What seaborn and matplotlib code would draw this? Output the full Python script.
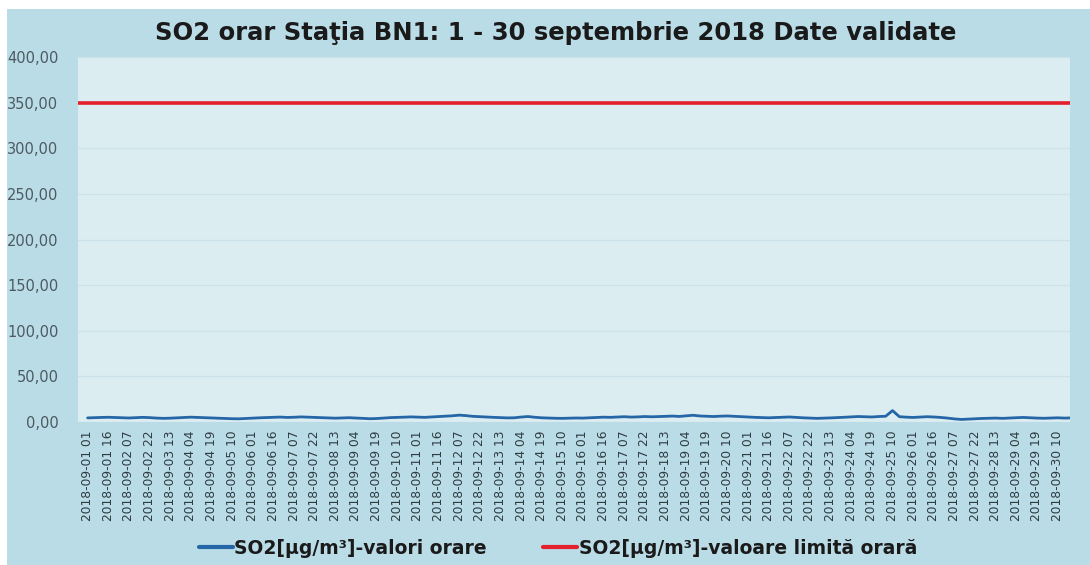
import matplotlib
matplotlib.use("Agg")
import matplotlib.pyplot as plt
import numpy as np
import pandas as pd
import seaborn as sns
from matplotlib.patches import Rectangle
from matplotlib.lines import Line2D

# hourly SO2, one value every 5 hours starting 2018-09-01 01
so2_values = [
    4.5, 4.8, 5.0, 5.2, 4.9, 4.6, 4.4, 4.7, 5.1, 4.8, 4.3, 4.0,
    4.2, 4.6, 4.9, 5.3, 5.0, 4.6, 4.3, 4.0, 3.8, 3.6, 3.5, 3.9,
    4.2, 4.6, 4.9, 5.1, 5.4, 5.0, 5.2, 5.6, 5.3, 4.9, 4.6, 4.4,
    4.2, 4.5, 4.7, 4.4, 4.0, 3.6, 3.8, 4.3, 4.8, 5.0, 5.3, 5.6,
    5.4, 5.1, 5.5, 5.9, 6.3, 6.8, 7.5, 7.0, 6.2, 5.8, 5.5, 5.1,
    4.8, 4.5, 4.6, 5.4, 6.0, 5.2, 4.6, 4.3, 4.1, 4.0, 4.2, 4.4,
    4.3, 4.6, 5.0, 5.3, 5.1, 5.5, 5.8, 5.4, 5.6, 6.0, 5.7, 5.9,
    6.2, 6.5, 6.1, 6.8, 7.4, 6.6, 6.3, 6.0, 6.4, 6.6, 6.2, 5.8,
    5.5, 5.1, 4.8, 4.6, 4.9, 5.2, 5.5, 5.0, 4.6, 4.3, 4.0, 4.2,
    4.5, 4.8, 5.2, 5.6, 6.0, 5.8, 5.5, 6.0, 6.3, 12.5, 5.8, 5.3,
    5.0, 5.4, 5.8, 5.5, 5.0, 4.3, 3.4, 2.8, 3.2, 3.6, 3.9, 4.1,
    4.3, 4.0, 4.4, 4.7, 5.0, 4.6, 4.3, 4.1, 4.4, 4.6, 4.3, 4.5,
]
sample_step_hours = 5
limit_value = 350
start_time = "2018-09-01 01:00"
n_hours = 720
tick_step_hours = 15
y_ticks = [0, 50, 100, 150, 200, 250, 300, 350, 400]

title = "SO2 orar Staţia BN1: 1 - 30 septembrie 2018 Date validate"
series_label = "SO2[µg/m³]-valori orare"
limit_label = "SO2[µg/m³]-valoare limită orară"

hours = pd.date_range(start_time, periods=n_hours, freq="h")
df = pd.DataFrame({
    "hour_idx": np.arange(0, len(so2_values) * sample_step_hours, sample_step_hours),
    "so2": so2_values,
})
tick_idx = np.arange(0, n_hours, tick_step_hours)
tick_labels = [hours[i].strftime("%Y-%m-%d %H") for i in tick_idx]

sns.set_theme(style="white")
plt.rcParams["font.family"] = ["DejaVu Sans"]

bg = "#b9dce7"
fig = plt.figure(figsize=(10.9, 5.65), dpi=100)
fig.patch.set_facecolor("white")
fig.patches.append(Rectangle((7 / 1090, 0), 1 - 7 / 1090, 1 - 9 / 565,
                             transform=fig.transFigure, facecolor=bg,
                             edgecolor="none", zorder=-10))

ax = fig.add_axes([78 / 1090, 1 - 422 / 565, (1070 - 78) / 1090, (422 - 57) / 565])
ax.set_facecolor("#dcedf2")

sns.lineplot(data=df, x="hour_idx", y="so2", ax=ax, color="#2466a6",
             linewidth=2.0, zorder=3)
ax.axhline(limit_value, color="#e3202b", linewidth=2.6, zorder=3)

ax.set_xlim(-7, 714)
ax.set_ylim(0, 400)
ax.set_yticks(y_ticks)
ax.set_yticklabels([f"{v:.2f}".replace(".", ",") for v in y_ticks],
                   fontsize=10.5, color="#4d5a60")
ax.set_xticks(tick_idx)
ax.set_xticklabels(tick_labels, rotation=90, fontsize=8.8, color="#2f3c42")
ax.tick_params(axis="x", length=0, pad=6)
ax.tick_params(axis="y", length=0, pad=14)
ax.grid(axis="y", color="#cde3ea", linewidth=1.0)
ax.set_axisbelow(True)
for s in ax.spines.values():
    s.set_visible(False)
ax.set_xlabel("")
ax.set_ylabel("")

fig.text(0.51, 1 - 33 / 565, title, ha="center", va="center",
         fontsize=17.5, fontweight="bold", color="#1a1a1a")

handles = [Line2D([], [], color="#2466a6", linewidth=3),
           Line2D([], [], color="#e3202b", linewidth=3)]
leg = fig.legend(handles, [series_label, limit_label], loc="center",
                 bbox_to_anchor=(0.512, 1 - 548 / 565), ncol=2, frameon=False,
                 handlelength=1.8, handletextpad=0.1, columnspacing=3.0,
                 prop={"size": 13.5, "weight": "bold"})
for t in leg.get_texts():
    t.set_color("#1a1a1a")

fig.savefig("out.png", dpi=100, facecolor=fig.get_facecolor())
